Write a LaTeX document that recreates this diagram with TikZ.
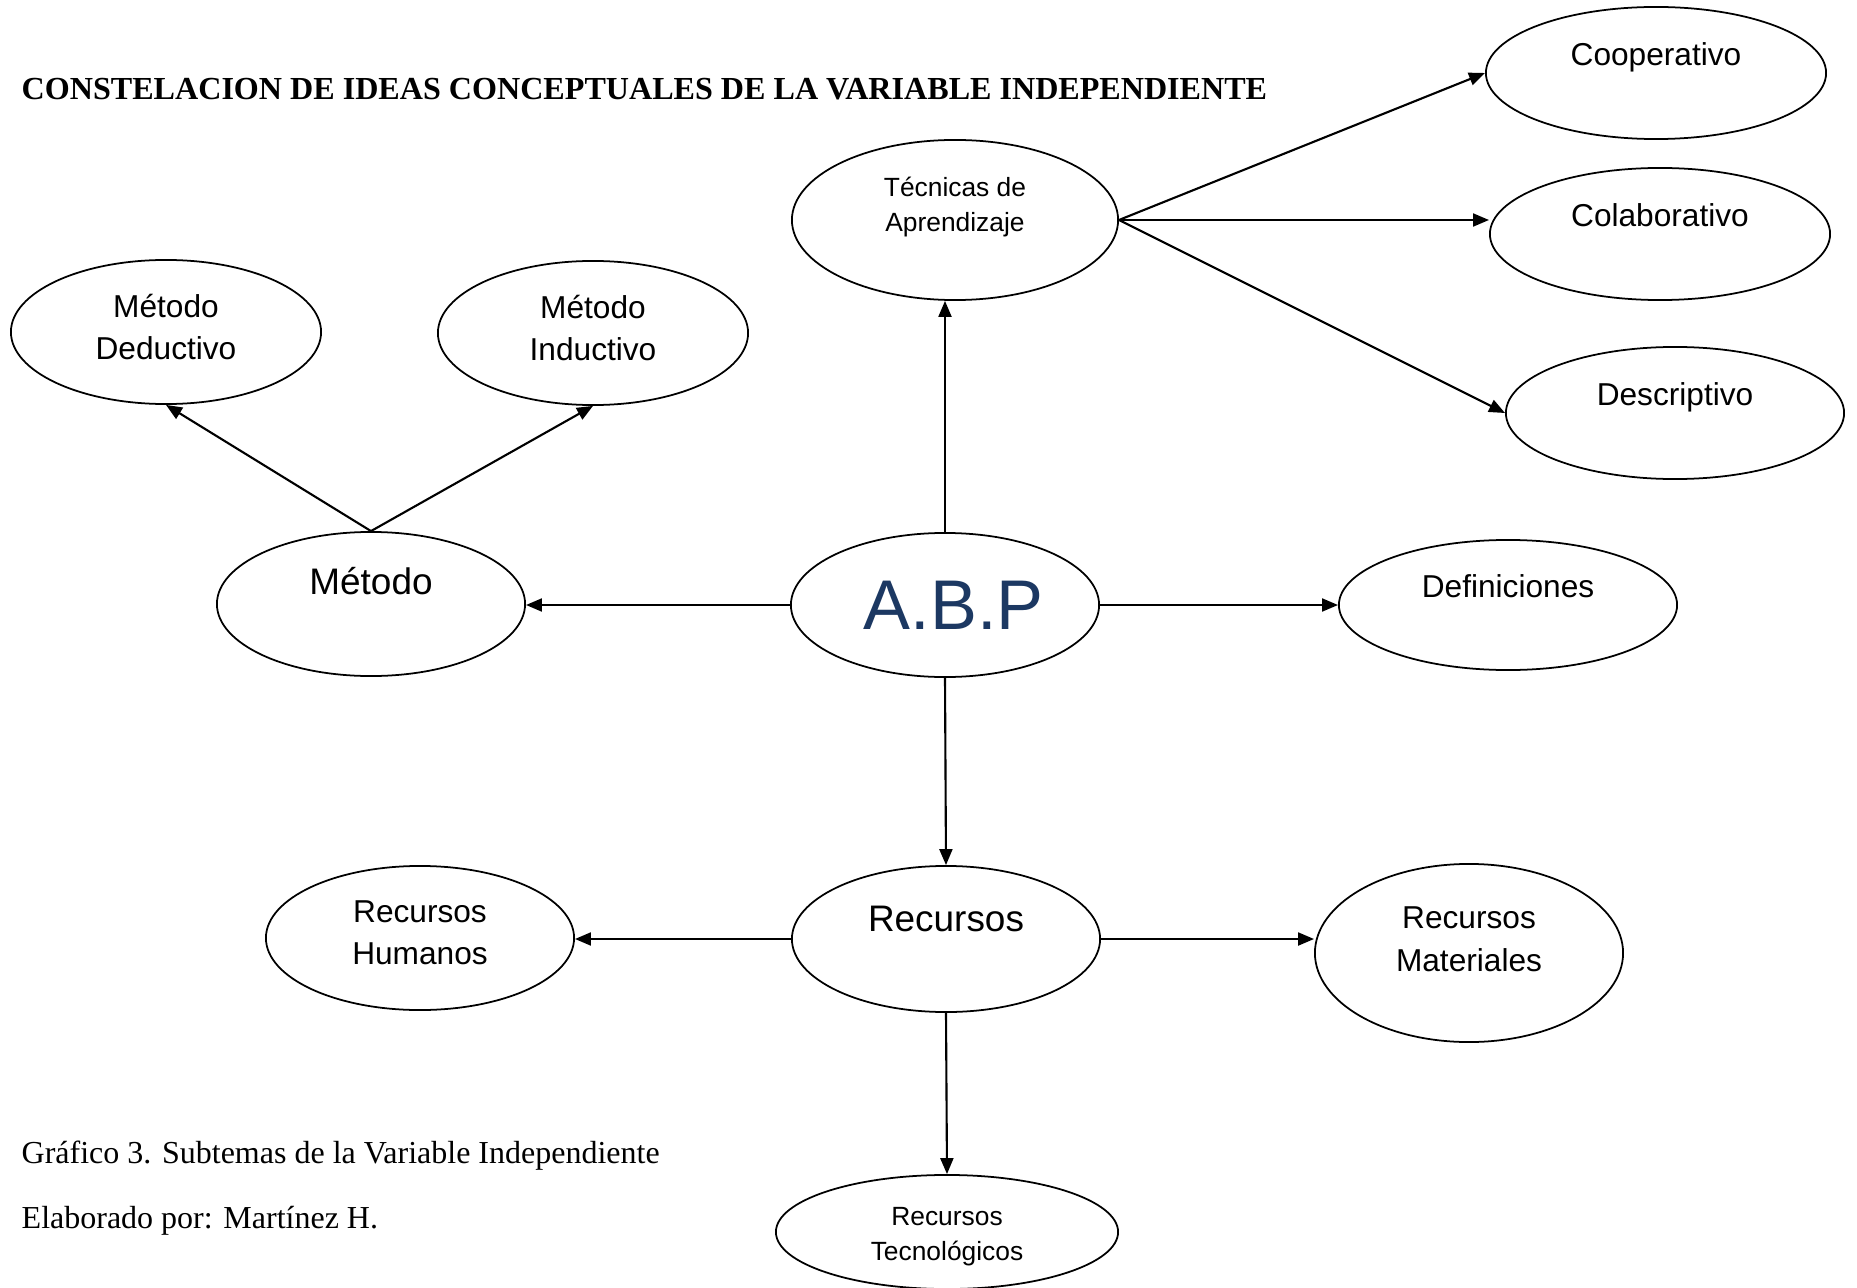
\documentclass[tikz,border=0pt]{standalone}
\usepackage{fontspec}
\setmainfont{Liberation Serif}
\newfontfamily\arial{Liberation Sans}
\usetikzlibrary{shapes.geometric,arrows.meta}
\definecolor{azulabp}{RGB}{28,56,98}
\tikzset{
	idea/.style={draw, ellipse, line width=0.5pt, inner sep=0pt, align=center, font=\arial\fontsize{9}{12.1}\selectfont},
	chica/.style={font=\arial\fontsize{7.5}{10}\selectfont},
	grande/.style={font=\arial\fontsize{10.5}{12}\selectfont},
	lift/.style={text depth=#1},
	flecha/.style={line width=0.6pt, -{Triangle[length=1.6mm,width=1.3mm]}},
	texto/.style={inner sep=0pt, font=\fontsize{9.1}{11}\selectfont}
}

\begin{document}
\begin{tikzpicture}[x=0.01cm, y=-0.01cm]
		%%%%% START %%%%%
		\useasboundingbox (0,0) rectangle (1857,1288);
		
		\node[texto, anchor=west, font=\bfseries\fontsize{9.13}{11}\selectfont] (titulo) at (21,89) {CONSTELACION DE IDEAS CONCEPTUALES DE LA VARIABLE INDEPENDIENTE};
		
		% centro
		\node[idea, minimum width=3.08cm, minimum height=1.44cm, text=azulabp, font=\arial\fontsize{20}{24}\selectfont] (abp) at (945,605) {\hspace*{5pt}A.B.P};
		
		% tecnicas
		\node[idea, chica, lift=9pt, minimum width=3.26cm, minimum height=1.6cm] (tec) at (955,220) {Técnicas de\\Aprendizaje};
		\node[idea, lift=11pt, minimum width=3.4cm, minimum height=1.32cm] (coop) at (1656,73) {Cooperativo};
		\node[idea, lift=11pt, minimum width=3.4cm, minimum height=1.32cm] (colab) at (1660,234) {Colaborativo};
		\node[idea, lift=11pt, minimum width=3.38cm, minimum height=1.32cm] (desc) at (1675,413) {Descriptivo};
		
		% metodo
		\node[idea, grande, lift=13pt, minimum width=3.08cm, minimum height=1.44cm] (metodo) at (371,604) {Método};
		\node[idea, lift=3pt, minimum width=3.1cm, minimum height=1.44cm] (deduc) at (166,332) {Método\\Deductivo};
		\node[idea, lift=3pt, minimum width=3.1cm, minimum height=1.44cm] (induc) at (593,333) {Método\\Inductivo};
		
		\node[idea, lift=11pt, minimum width=3.38cm, minimum height=1.3cm] (defin) at (1508,605) {Definiciones};
		
		% recursos
		\node[idea, grande, lift=11.5pt, minimum width=3.08cm, minimum height=1.46cm] (recur) at (946,939) {Recursos};
		\node[idea, lift=3pt, minimum width=3.08cm, minimum height=1.44cm] (human) at (420,938) {Recursos\\Humanos};
		\node[idea, lift=8pt, minimum width=3.08cm, minimum height=1.78cm] (mater) at (1469,953) {Recursos\\Materiales};
		\node[idea, chica, text height=18pt, minimum width=3.42cm, minimum height=1.14cm] (tecno) at (947,1232) {Recursos\\Tecnológicos};
		
		% flechas
		\draw[flecha] (tec.east) -- (coop.west);
		\draw[flecha] (tec.east) -- (tec.east -| colab.west);
		\draw[flecha] (tec.east) -- (desc.west);
		\draw[flecha] (abp.north) -- (abp.north |- tec.south);
		\draw[flecha] (metodo.north) -- (deduc.south);
		\draw[flecha] (metodo.north) -- (induc.south);
		\draw[flecha] (abp.west) -- (abp.west -| metodo.east);
		\draw[flecha] (abp.east) -- (defin.west);
		\draw[flecha] (abp.south) -- (recur.north);
		\draw[flecha] (recur.west) -- (recur.west -| human.east);
		\draw[flecha] (recur.east) -- (recur.east -| mater.west);
		\draw[flecha] (recur.south) -- (tecno.north);
		
		\node[texto, anchor=base west] (grafico) at (21,1163) {Gráfico 3. Subtemas de la Variable Independiente};
		\node[texto, anchor=base west] (elab) at (21,1228) {Elaborado por: Martínez H.};
		
		%%%%% END %%%%%
\end{tikzpicture}
\end{document}
